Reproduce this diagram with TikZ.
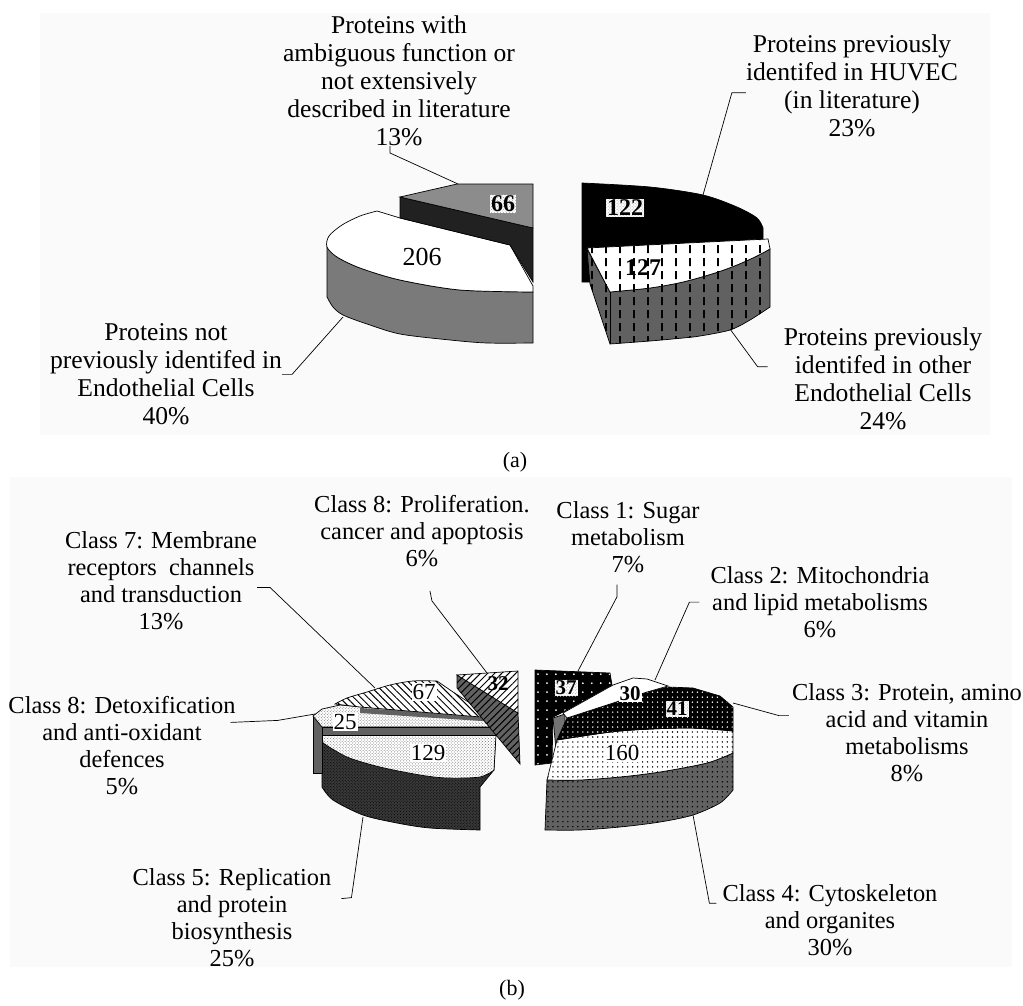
\documentclass[tikz,border=0pt]{standalone}
\usepackage{fontspec}
\setmainfont{Liberation Serif}
\usetikzlibrary{patterns,patterns.meta}

% short vertical dashes, as in the 122/127 group
\pgfdeclarepatternformonly{vdashes}{\pgfqpoint{0pt}{0pt}}{\pgfqpoint{14pt}{13pt}}{\pgfqpoint{14pt}{13pt}}{%
  \pgfsetlinewidth{1.6pt}%
  \pgfpathmoveto{\pgfqpoint{7pt}{2pt}}\pgfpathlineto{\pgfqpoint{7pt}{10pt}}\pgfusepath{stroke}}

\begin{document}
\begin{tikzpicture}[x=1bp,y=-1bp,
    sliceline/.style={draw=black,line width=0.7pt},
    leader/.style={draw=black,line width=0.7pt},
    laba/.style={align=center,inner sep=0pt,anchor=north,font=\fontsize{25.6bp}{28bp}\selectfont},
    labb/.style={align=center,inner sep=0pt,anchor=north,font=\fontsize{24.4bp}{26.8bp}\selectfont},
    panelcap/.style={inner sep=0pt,font=\fontsize{22bp}{24bp}\selectfont},
    numtxt/.style={inner sep=1pt,font=\fontsize{23bp}{23bp}\selectfont},
    boldnum/.style={inner sep=1pt,font=\bfseries\fontsize{24bp}{24bp}\selectfont},
    dotbox/.style={boldnum,preaction={fill=white},pattern=crosshatch dots,pattern color=black!35},
    whitebox/.style={numtxt,fill=white},
  ]
\useasboundingbox (0,0) rectangle (1023,1006);
\fill[black!2] (40,13) rectangle (990,435);
\fill[black!2] (10,477) rectangle (1012,967);

%% (a) left group
\path[sliceline,fill=black!52] (533,292) -- plot[smooth] coordinates {(533,292) (460,290) (400,280) (360,268) (337,257) (327,247)} -- (327,297) -- plot[smooth] coordinates {(327,297) (333,307) (343,315) (367,324) (400,334) (450,340) (487,343) (533,343)} -- cycle;
\path[sliceline,fill=white] (400,218) -- (510,245) -- (533,286) -- (533,292) -- plot[smooth] coordinates {(533,292) (460,290) (400,280) (360,268) (337,257) (327,247) (329,236) (342,225) (360,216) (377,211)} -- cycle;
\path[sliceline,fill=black!87] (400,197) -- (533,228) -- (533,282) -- (510,245) -- (400,218) -- cycle;
\path[sliceline,fill=black!45] (400,197) -- (457,184) -- (533,184) -- (533,228) -- cycle;

%% (a) right group
\path[sliceline,fill=black] (582,183) -- plot[smooth] coordinates {(582,183) (650,187) (703,195) (737,207) (757,218) (763,228)} -- (763,240) -- (587,248) -- (591,282) -- (582,282) -- cycle;
\path[sliceline,preaction={fill=black!62},pattern=vdashes] (587,249) -- (610,292) -- plot[smooth] coordinates {(610,292) (650,288) (683,282) (715,273) (737,265) (757,256) (770,249)} -- (770,307) -- plot[smooth] coordinates {(770,307) (750,320) (730,330) (700,336) (683,338) (650,341) (610,344)} -- (590,284) -- cycle;
\path[sliceline,preaction={fill=white},pattern=vdashes] (587,248) -- (768,239) -- (770,249) -- plot[smooth] coordinates {(770,249) (757,256) (737,265) (715,273) (683,282) (650,288) (610,292)} -- cycle;
\draw[sliceline] (610,292) -- (610,344);

\node[numtxt,font=\fontsize{26bp}{26bp}\selectfont] (n206) at (422,257) {206};
\node[dotbox] (n66) at (503,204) {66};
\node[dotbox] (n122) at (625,208) {122};
\node[boldnum] (n127) at (643,268) {127};

\coordinate (t66) at (458,184);
\coordinate (s206) at (343,317);
\coordinate (t122) at (703,195);
\coordinate (s127) at (730,329);

\node[laba] (lab13) at (399,15.5) {Proteins with\\ambiguous function or\\not extensively\\described in literature\\13\%};
\node[laba] (lab40) at (166,323.5) {Proteins not\\previously identifed in\\Endothelial Cells\\40\%};
\node[laba] (lab23) at (852,34.5) {Proteins previously\\identifed in HUVEC\\(in literature)\\23\%};
\node[laba] (lab24) at (883,327.5) {Proteins previously\\identifed in other\\Endothelial Cells\\24\%};
\node[panelcap] (capa) at (515,462) {(a)};

\draw[leader] ([xshift=-9pt]lab13.south) -- ++(0,7) -- (t66);
\draw[leader] (lab40.east) -- ++(10,0) -- (s206);
\draw[leader] ([yshift=-7pt]lab23.west) -- ++(-14,0) -- (t122);
\draw[leader] ([xshift=-16pt,yshift=12pt]lab24.west) -- ++(-10,0) -- (s127);

%% (b) left group
\path[sliceline,preaction={fill=black!78},pattern=crosshatch dots] (322,740) -- (322,787) -- plot[smooth] coordinates {(322,787) (333,800) (363,815) (397,823) (430,828) (480,830)} -- (480,787) -- (494,770) -- (496,730) -- cycle;
\path[sliceline,preaction={fill=white},pattern=crosshatch dots,pattern color=black!55] (322,735) -- (496,735) -- (494,770) -- plot[smooth] coordinates {(494,770) (480,777) (447,778) (420,775) (380,767) (347,757) (323,743)} -- cycle;
\path[sliceline,fill=black!62] (313,716) -- (322,716) -- (322,773) -- (313,773) -- cycle;
\path[sliceline,preaction={fill=white},pattern=crosshatch dots,pattern color=black!55] (313,716) -- (322,709) -- (340,705) -- (497,719) -- (497,727) -- (322,727) -- cycle;
\path[sliceline,fill=black!62] (322,727) -- (497,727) -- (497,735) -- (322,735) -- cycle;
\path[fill=black!62] (360,708) -- (497,717) -- (497,722) -- (360,713) -- cycle;
\path[sliceline,preaction={fill=white},pattern={Lines[angle=-45,distance=5pt,line width=1pt]}] (335,704) -- plot[smooth] coordinates {(335,704) (347,698) (367,692) (390,685) (413,681) (437,681)} -- (453,692) -- (493,718) -- (360,707) -- cycle;
\path[sliceline,preaction={fill=black!62},pattern={Lines[angle=45,distance=5pt,line width=1pt]}] (457,675) -- (518,713) -- (520,764) -- (457,688) -- cycle;
\path[sliceline,preaction={fill=white},pattern={Lines[angle=45,distance=5pt,line width=1pt]}] (457,675) -- (518,671) -- (518,713) -- cycle;

%% (b) right group
\path[sliceline,preaction={fill=black},pattern={Dots[distance=9pt,radius=1pt]},pattern color=white] (535,670) -- (610,673) -- (612,685) -- (567,710) -- (553,717) -- (552,763) -- (535,765) -- cycle;
\path[sliceline,fill=black!55] (553,718) -- (565,714) -- (565,742) -- (556,750) -- cycle;
\path[sliceline,preaction={fill=black!62},pattern={Dots[distance=5pt,radius=0.8pt]}] (547,780) -- plot[smooth] coordinates {(547,780) (580,780) (620,777) (660,772) (707,763) (733,753)} -- (733,790) -- plot[smooth] coordinates {(733,790) (720,803) (693,815) (660,822) (620,827) (580,830) (545,830)} -- cycle;
\path[sliceline,preaction={fill=white},pattern={Dots[distance=5pt,radius=0.8pt]}] (557,740) -- plot[smooth] coordinates {(557,740) (620,731) (687,728) (733,731)} -- (733,753) -- plot[smooth] coordinates {(733,753) (707,763) (660,772) (620,777) (580,780) (547,780)} -- cycle;
\path[sliceline,preaction={fill=black},pattern={Dots[distance=5pt,radius=0.8pt]},pattern color=white] (567,718) -- (647,692) -- (668,687) -- (693,688) -- (720,696) -- (733,707) -- (733,731) -- plot[smooth] coordinates {(733,731) (687,728) (620,731) (557,740)} -- cycle;
\path[sliceline,fill=white] (563,713) -- (613,685) -- (633,678) -- (647,679) -- (668,686) -- (647,692) -- (567,718) -- cycle;

\node[whitebox] (n129) at (428,753) {129};
\node[whitebox] (n67) at (424,692) {67};
\node[whitebox] (n25) at (345,722) {25};
\node[boldnum,font=\bfseries\fontsize{21bp}{21bp}\selectfont] (n32) at (498,684) {32};
\node[dotbox,font=\bfseries\fontsize{21bp}{21bp}\selectfont] (n37) at (566,688) {37};
\node[boldnum,fill=white,font=\bfseries\fontsize{21bp}{21bp}\selectfont] (n30) at (630,694) {30};
\node[dotbox,font=\bfseries\fontsize{21bp}{21bp}\selectfont] (n41) at (677,709) {41};
\node[whitebox] (n160) at (622,753) {160};

\coordinate (s32) at (487,673);
\coordinate (s67) at (375,688);
\coordinate (s25) at (315,714);
\coordinate (s37) at (578,671);
\coordinate (s30) at (655,680);
\coordinate (s41) at (733,703);
\coordinate (s160) at (693,815);
\coordinate (s129) at (363,817);

\node[labb] (labC8p) at (422,495.5) {Class 8: Proliferation.\\cancer and apoptosis\\6\%};
\node[labb] (labC7) at (161,531.5) {Class 7: Membrane\\receptors\ \ channels\\and transduction\\13\%};
\node[labb] (labC8d) at (122,696.5) {Class 8: Detoxification\\and anti-oxidant\\defences\\5\%};
\node[labb] (labC1) at (628,501.5) {Class 1: Sugar\\metabolism\\7\%};
\node[labb] (labC2) at (820,566.5) {Class 2: Mitochondria\\and lipid metabolisms\\6\%};
\node[labb] (labC3) at (907,683.5) {Class 3: Protein, amino\\acid and vitamin\\metabolisms\\8\%};
\node[labb] (labC4) at (830,884.5) {Class 4: Cytoskeleton\\and organites\\30\%};
\node[labb] (labC5) at (232,868.5) {Class 5: Replication\\and protein\\biosynthesis\\25\%};
\node[panelcap] (capb) at (512,990) {(b)};

\draw[leader] ([xshift=8pt,yshift=-24pt]labC8p.south) -- ++(2,10) -- (s32);
\draw[leader] ([yshift=-7pt]labC7.east) -- ++(13,0) -- (s67);
\draw[leader] ([xshift=-5pt,yshift=-26pt]labC8d.north east) -- ++(47,-2) -- (s25);
\draw[leader] ([xshift=-11pt,yshift=-12pt]labC1.south) -- ++(0,12) -- (s37);
\draw[leader] ([xshift=-11pt]labC2.west) -- ++(-10,0) -- (s30);
\draw[leader] ([xshift=-3pt,yshift=17pt]labC3.west) -- ++(-10,0) -- (s41);
\draw[leader] ([xshift=-6pt,yshift=17pt]labC4.west) -- ++(-7,0) -- (s160);
\draw[leader] ([xshift=10pt,yshift=19pt]labC5.east) -- ++(10,-1) -- (s129);
\end{tikzpicture}
\end{document}
